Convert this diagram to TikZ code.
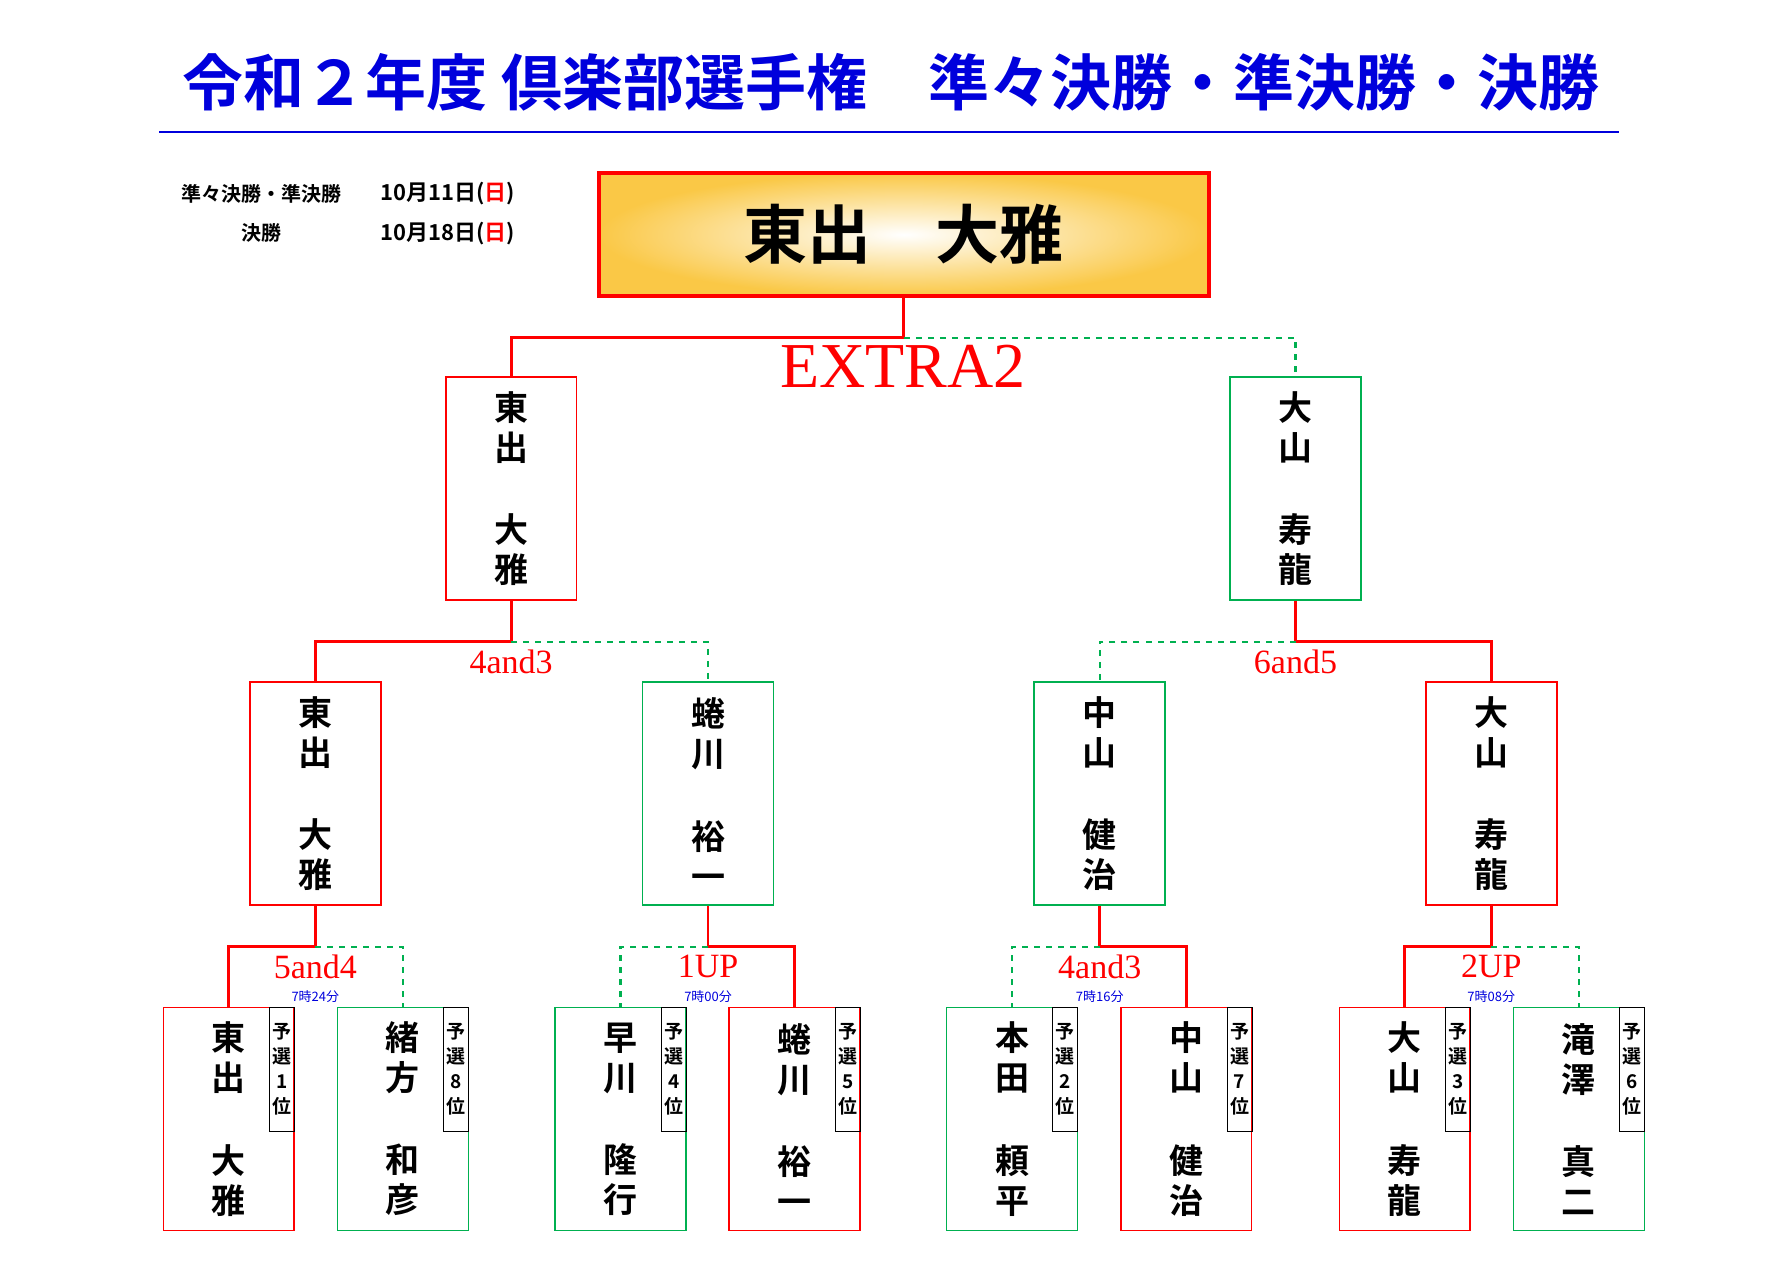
\documentclass[tikz,border=0pt]{standalone}
\usepackage{fontspec}
\newfontfamily\jp{Noto Sans CJK JP}[BoldFont={Noto Sans CJK JP Bold}]
\newfontfamily\scorefont{Liberation Serif}
\usetikzlibrary{positioning}
\definecolor{winred}{RGB}{255,0,0}
\definecolor{losegreen}{RGB}{0,176,80}
\definecolor{titleblue}{RGB}{0,0,220}
\tikzset{
  redbox/.style={draw=winred, thick, minimum width=2.3cm, minimum height=3.92cm, inner sep=0pt},
  greenbox/.style={draw=losegreen, thick, minimum width=2.3cm, minimum height=3.92cm, inner sep=0pt},
  namefont/.style={font=\jp\bfseries\fontsize{17}{20}\selectfont, align=center},
  tagbox/.style={draw, thin, minimum width=0.44cm, minimum height=2.18cm, inner sep=0pt,
    font=\jp\bfseries\fontsize{9.5}{12.5}\selectfont, align=center},
  winline/.style={winred, line width=1.4pt},
  loseline/.style={losegreen, line width=1.2pt, dashed},
  score/.style={text=winred, font=\scorefont\fontsize{17}{18}\selectfont},
  clock/.style={text=titleblue, font=\jp\fontsize{6.5}{7}\selectfont}
}
\begin{document}
\begin{tikzpicture}[x=0.02cm, y=-0.02cm]
    \useasboundingbox (0,0) rectangle (1568,1109.6);

    % Title
    \node[text=titleblue, font=\jp\bfseries\fontsize{30.5}{31}\selectfont] (title) at (783,72)
      {令和２年度 倶楽部選手権　準々決勝・準決勝・決勝};
    \draw[titleblue, line width=1.3pt] (140,116) -- (1422,116);

    % Dates
    \node[font=\jp\bfseries\fontsize{10}{12}\selectfont] (d1) at (230,170) {準々決勝・準決勝};
    \node[font=\jp\bfseries\fontsize{10}{12}\selectfont] (d2) at (230,205) {決勝};
    \node[font=\jp\bfseries\fontsize{11}{12}\selectfont] (d3) at (393,170) {10月11日(\textcolor{winred}{日})};
    \node[font=\jp\bfseries\fontsize{11}{12}\selectfont] (d4) at (393,205) {10月18日(\textcolor{winred}{日})};

    % Champion
    \node[draw=winred, line width=2pt, minimum width=10.72cm, minimum height=2.16cm,
      inner color=white, outer color={rgb,255:red,250;green,200;blue,70},
      font=\jp\bfseries\fontsize{32}{33}\selectfont] (win) at (794,206) {東出　大雅};

    % Semifinal
    \node[redbox, namefont] (s1) at (449,429) {東\\出\\[0.74cm]大\\雅};
    \node[greenbox, namefont] (s2) at (1138,429) {大\\山\\[0.74cm]寿\\龍};
    \draw[winline] (win.south) -- ++(0,35) -| (s1.north);
    \draw[loseline] (win.south) ++(0,35) -| (s2.north);
    \node[text=winred, font=\scorefont\fontsize{32}{32}\selectfont] (extra) at (793,322) {EXTRA2};

    % Quarterfinal
    \node[redbox, namefont] (q1) at (277,697) {東\\出\\[0.74cm]大\\雅};
    \node[greenbox, namefont] (q2) at (622,697) {蜷\\川\\[0.74cm]裕\\一};
    \node[greenbox, namefont] (q3) at (966,697) {中\\山\\[0.74cm]健\\治};
    \node[redbox, namefont] (q4) at (1310,697) {大\\山\\[0.74cm]寿\\龍};
    \draw[winline] (s1.south) -- ++(0,36) -| (q1.north);
    \draw[loseline] (s1.south) ++(0,36) -| (q2.north);
    \draw[winline] (s2.south) -- ++(0,36) -| (q4.north);
    \draw[loseline] (s2.south) ++(0,36) -| (q3.north);
    \node[score] (sc1) at (449,581) {4and3};
    \node[score] (sc2) at (1138,581) {6and5};

    % First round
    \foreach \n/\x/\st/\a/\b/\c/\d/\r in {
        1/201/redbox/東/出/大/雅/1, 2/354/greenbox/緒/方/和/彦/8,
        3/545/greenbox/早/川/隆/行/4, 4/698/redbox/蜷/川/裕/一/5,
        5/889/greenbox/本/田/頼/平/2, 6/1042/redbox/中/山/健/治/7,
        7/1234/redbox/大/山/寿/龍/3, 8/1387/greenbox/滝/澤/真/二/6} {
      \node[\st, namefont] (b\n) at (\x,983) {\a\\\b\\[0.74cm]\c\\\d};
      \node[tagbox, anchor=north east] (t\n) at (b\n.north east) {予\\選\\\r\\位};
    }
    \draw[winline] (q1.south) -- ++(0,36) -| (b1.north);
    \draw[loseline] (q1.south) ++(0,36) -| (b2.north);
    \draw[winline] (q2.south) -- ++(0,36) -| (b4.north);
    \draw[loseline] (q2.south) ++(0,36) -| (b3.north);
    \draw[winline] (q3.south) -- ++(0,36) -| (b6.north);
    \draw[loseline] (q3.south) ++(0,36) -| (b5.north);
    \draw[winline] (q4.south) -- ++(0,36) -| (b7.north);
    \draw[loseline] (q4.south) ++(0,36) -| (b8.north);
    \foreach \x/\s/\t [count=\i] in {277/5and4/7時24分, 622/1UP/7時00分,
        966/4and3/7時16分, 1310/2UP/7時08分} {
      \node[score] (r\i) at (\x,849) {\s};
      \node[clock] (c\i) at (\x,875) {\t};
    }
\end{tikzpicture}
\end{document}
